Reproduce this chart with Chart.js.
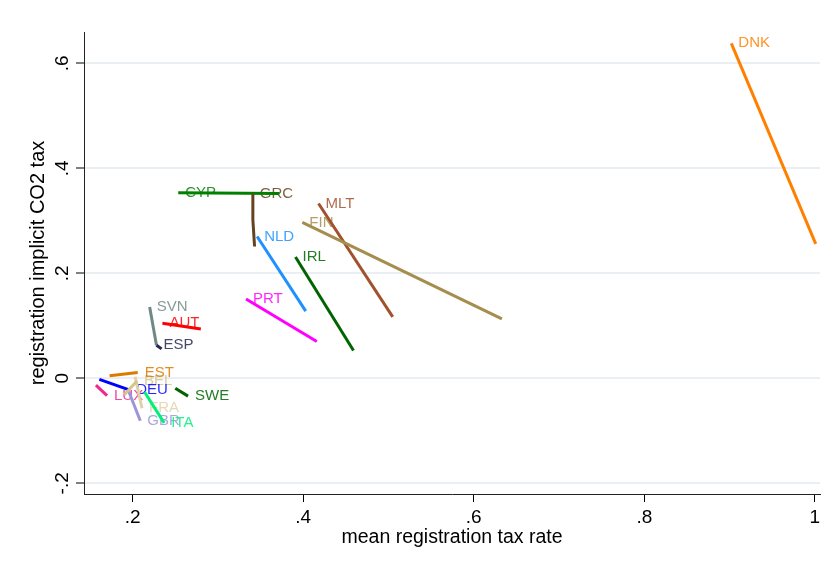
<!DOCTYPE html>
<html>
<head>
<meta charset="utf-8">
<script src="https://cdn.jsdelivr.net/npm/chart.js@4"></script>
<style>
  body { margin: 0; background: #fff; }
</style>
</head>
<body>
<canvas id="regchart" width="839" height="562"></canvas>
<script>
// country codes, first point carries the label
var countries = ['AUT', 'BEL', 'GRC', 'CYP', 'DEU', 'DNK', 'ESP', 'EST', 'FIN', 'FRA',
                 'GBR', 'IRL', 'ITA', 'LUX', 'MLT', 'NLD', 'PRT', 'SVN', 'SWE'];
var xVals = [
  [0.235, 0.280],          // AUT
  [0.205, 0.190],          // BEL
  [0.341, 0.341, 0.343],   // GRC
  [0.2535, 0.372],         // CYP
  [0.196, 0.161],          // DEU
  [0.902, 1.001],          // DNK
  [0.228, 0.234],          // ESP
  [0.206, 0.173],          // EST
  [0.399, 0.633],          // FIN
  [0.211, 0.203],          // FRA
  [0.209, 0.194],          // GBR
  [0.391, 0.459],          // IRL
  [0.237, 0.214],          // ITA
  [0.170, 0.157],          // LUX
  [0.418, 0.505],          // MLT
  [0.346, 0.403],          // NLD
  [0.333, 0.416],          // PRT
  [0.220, 0.228],          // SVN
  [0.265, 0.250]           // SWE
];
var yVals = [
  [0.105, 0.094],
  [-0.005, -0.032],
  [0.352, 0.302, 0.251],
  [0.3535, 0.352],
  [-0.022, -0.002],
  [0.638, 0.256],
  [0.063, 0.056],
  [0.011, 0.005],
  [0.297, 0.113],
  [-0.057, 0.003],
  [-0.081, -0.019],
  [0.231, 0.053],
  [-0.085, -0.026],
  [-0.033, -0.013],
  [0.333, 0.117],
  [0.270, 0.128],
  [0.151, 0.070],
  [0.136, 0.063],
  [-0.034, -0.019]
];
var lineColors = ['#ff0000', '#d2c68e', '#654321', '#008000', '#0000ff', '#ff8000', '#262650',
                  '#dd7a00', '#a58d4c', '#e0d2a8', '#9a96d8', '#006400', '#00f07a', '#f0288c',
                  '#a0522d', '#1e90ff', '#ff00ff', '#6f8a86', '#006400'];

var xTicks = [0.2, 0.4, 0.6, 0.8, 1];
var yTicks = [-0.2, 0, 0.2, 0.4, 0.6];
var xTitle = 'mean registration tax rate';
var yTitle = 'registration implicit CO2 tax';

var fontFam = '"Liberation Sans", Arial, sans-serif';

function stataNum(v) {
  var s = String(+v.toFixed(2));
  return s.replace(/^(-?)0\./, '$1.');
}

var datasets = countries.map(function (c, i) {
  return {
    label: c,
    data: xVals[i].map(function (x, j) { return {x: x, y: yVals[i][j]}; }),
    showLine: true,
    borderColor: lineColors[i],
    backgroundColor: lineColors[i],
    borderWidth: 3,
    pointRadius: 0,
    fill: false
  };
});

var labelPlugin = {
  id: 'countryLabels',
  beforeDatasetsDraw: function (chart) {
    var ctx = chart.ctx, xs = chart.scales.x, ys = chart.scales.y;
    ctx.save();
    ctx.font = '15px ' + fontFam;
    ctx.textAlign = 'left';
    ctx.textBaseline = 'middle';
    ctx.globalAlpha = 0.85;
    countries.forEach(function (c, i) {
      ctx.fillStyle = lineColors[i];
      ctx.fillText(c, xs.getPixelForValue(xVals[i][0]) + 7, ys.getPixelForValue(yVals[i][0]));
    });
    ctx.restore();
  }
};

var config = {
  type: 'scatter',
  data: {datasets: datasets},
  options: {
    responsive: false,
    animation: false,
    layout: {padding: {left: 0, right: 19, top: 32, bottom: 0}},
    plugins: {legend: {display: false}, tooltip: {enabled: false}},
    scales: {
      x: {
        type: 'linear',
        min: 0.143,
        max: 1.006,
        afterBuildTicks: function (s) { s.ticks = xTicks.map(function (v) { return {value: v}; }); },
        afterFit: function (s) { s.height = 68; },
        grid: {drawOnChartArea: false, tickLength: 8, tickColor: '#000', tickWidth: 1},
        border: {color: '#222', width: 1},
        ticks: {callback: stataNum, font: {family: fontFam, size: 19}, color: '#000', padding: 4, maxRotation: 0},
        title: {display: true, text: xTitle, color: '#000', font: {family: fontFam, size: 19.5}, padding: {top: 0, bottom: 13}}
      },
      y: {
        type: 'linear',
        min: -0.2204,
        max: 0.6596,
        afterBuildTicks: function (s) { s.ticks = yTicks.map(function (v) { return {value: v}; }); },
        afterFit: function (s) { s.width = 84; },
        grid: {color: '#e9eff3', lineWidth: 2, tickLength: 8, tickColor: '#000', tickWidth: 1},
        border: {color: '#222', width: 1},
        ticks: {callback: stataNum, font: {family: fontFam, size: 19}, color: '#000', padding: 2,
                minRotation: 90, maxRotation: 90, crossAlign: 'center'},
        title: {display: true, text: yTitle, color: '#000', font: {family: fontFam, size: 20}, padding: {top: 26, bottom: 0}}
      }
    }
  },
  plugins: [labelPlugin]
};

var chart = new Chart(document.getElementById('regchart'), config);
</script>
</body>
</html>
